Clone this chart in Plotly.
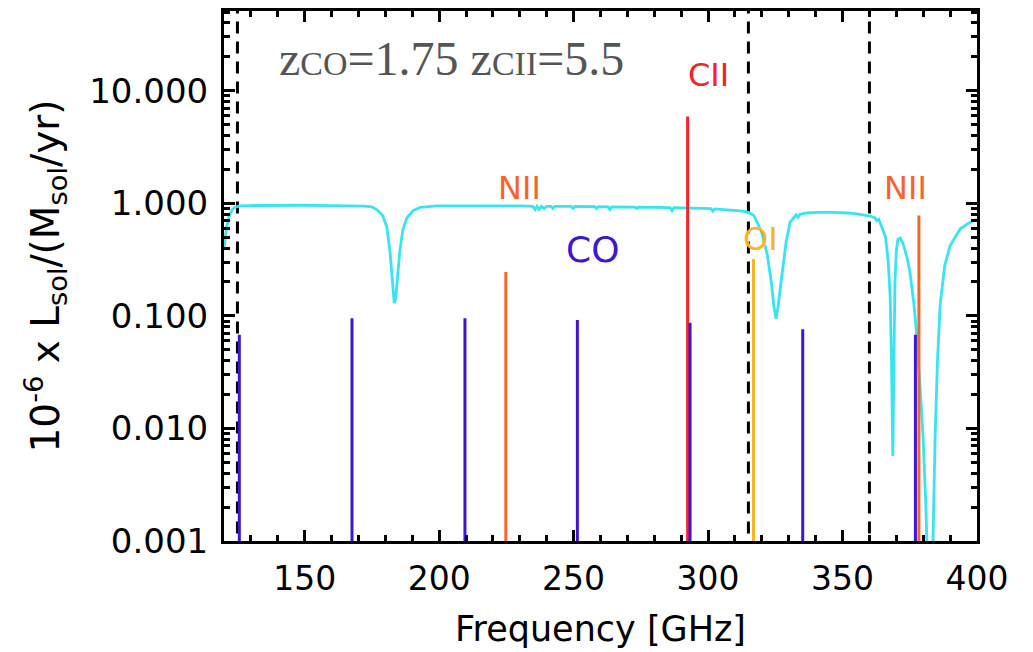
import plotly.graph_objects as go

# ---------------- data ----------------
# atmospheric transmission curve
atm_freq = [120, 121, 122, 123, 124, 126, 130, 140, 150, 160, 168, 172, 175, 177, 179,
            180.5, 181.7, 182.6, 183.3, 183.8, 184.5, 185.4, 186.5, 188, 190.3, 193, 199,
            210, 220, 230, 234.8, 235.7, 236.4, 237.1, 238.0, 239.1, 240, 241.6, 242.3, 243,
            249, 249.8, 250.5, 257.8, 258.5, 259.2, 262.8, 263.5, 264.2, 270, 272.8, 273.5,
            274.2, 280, 285.9, 286.6, 287.3, 290, 295, 301.1, 301.8, 302.5, 306, 310, 313,
            315, 317, 318.2, 320, 322, 323.5, 324.5, 325.3, 326, 327.5, 329, 330.5, 332.8,
            333.5, 334.2, 336.8, 341, 346.5, 352, 356, 360.2, 362.1, 362.8, 363.5, 365, 366,
            367, 367.7, 368.2, 368.7, 369.1, 369.5, 370.0, 370.6, 371.5, 372.5, 374, 375,
            376.5, 377.7, 379, 380, 381, 381.8, 383.3, 384.4, 385.3, 386.3, 388, 390, 393.7,
            397, 400]
atm_trans = [0.40, 0.62, 0.78, 0.87, 0.92, 0.95, 0.955, 0.96, 0.96, 0.955, 0.95, 0.945, 0.93,
             0.87, 0.78, 0.62, 0.38, 0.20, 0.13, 0.14, 0.22, 0.38, 0.58, 0.74, 0.86, 0.92, 0.95,
             0.955, 0.95, 0.95, 0.94, 0.88, 0.94, 0.88, 0.94, 0.90, 0.94, 0.94, 0.90, 0.94,
             0.94, 0.90, 0.94, 0.935, 0.90, 0.935, 0.93, 0.88, 0.93, 0.93, 0.925, 0.90,
             0.925, 0.92, 0.915, 0.86, 0.915, 0.91, 0.90, 0.895, 0.85, 0.89, 0.88, 0.87, 0.85,
             0.83, 0.78, 0.68, 0.55, 0.35, 0.20, 0.12, 0.094, 0.12, 0.245, 0.45, 0.68, 0.79,
             0.75, 0.80, 0.82, 0.83, 0.83, 0.82, 0.80, 0.77, 0.74, 0.70, 0.72, 0.58, 0.50,
             0.30, 0.15, 0.04, 0.0057, 0.04, 0.20, 0.38, 0.48, 0.49, 0.44, 0.33, 0.25,
             0.13, 0.063, 0.02, 0.008, 0.002, 0.0004, 0.0004, 0.008, 0.04, 0.125, 0.28, 0.42, 0.59,
             0.67, 0.72]

# observed-frame line frequencies [GHz] and luminosities
co_freq = [125.7, 167.6, 209.6, 251.4, 293.3, 335.2, 377.1]
co_lum = [0.068, 0.095, 0.095, 0.092, 0.087, 0.076, 0.068]
cii_freq = [292.4]
cii_lum = [5.9]
nii_freq = [224.8, 378.4]
nii_lum = [0.245, 0.78]
oi_freq = [316.9]
oi_lum = [0.32]

band_edges = [125, 315, 360]

x_tickvals = [150, 200, 250, 300, 350, 400]
y_tickvals = [0.001, 0.01, 0.1, 1, 10]
y_ticktext = ["0.001", "0.010", "0.100", "1.000", "10.000"]

# ---------------- colours ----------------
C_ATM = "rgb(55,228,240)"
C_CO = "rgb(62,22,208)"
C_CII = "rgb(240,36,42)"
C_NII = "rgb(245,100,40)"
C_OI = "rgb(247,181,38)"

BOTTOM = 1e-4
TOP = 100


def spikes(freqs, vals):
    xs, ys = [], []
    for f, v in zip(freqs, vals):
        xs += [f, f, None]
        ys += [BOTTOM, v, None]
    return xs, ys


fig = go.Figure()

# dashed band edges
bx, by = [], []
for f in band_edges:
    bx += [f, f, None]
    by += [BOTTOM, TOP, None]
fig.add_trace(go.Scatter(x=bx, y=by, mode="lines",
                         line=dict(color="black", width=3, dash="12px,8px"),
                         hoverinfo="skip", showlegend=False))

# atmospheric transmission
fig.add_trace(go.Scatter(x=atm_freq, y=atm_trans, mode="lines",
                         line=dict(color=C_ATM, width=2.8), showlegend=False))

for fr, lum, col in [(cii_freq, cii_lum, C_CII), (nii_freq, nii_lum, C_NII),
                     (oi_freq, oi_lum, C_OI), (co_freq, co_lum, C_CO)]:
    sx, sy = spikes(fr, lum)
    fig.add_trace(go.Scatter(x=sx, y=sy, mode="lines",
                             line=dict(color=col, width=3), showlegend=False))


# annotation y positions are given as log10 values (log axis)
def label(text, x, logy, color, size=32):
    fig.add_annotation(x=x, y=logy, xref="x", yref="y", text=text, showarrow=False,
                       xanchor="center", yanchor="middle",
                       font=dict(family="DejaVu Sans", size=size, color=color))


label("CII", 300, 1.14, C_CII)
label("NII", 230, 0.133, C_NII)
label("CO", 256.9, -0.407, C_CO, 36)
label("OI", 319.5, -0.319, C_OI)
label("NII", 373.3, 0.133, C_NII)

fig.add_annotation(x=204.5, y=1.29, xref="x", yref="y", showarrow=False,
                   xanchor="center", yanchor="middle",
                   text="z<span style='font-size:34px'>CO</span>=1.75 "
                        "z<span style='font-size:34px'>CII</span>=5.5",
                   font=dict(family="Liberation Serif", size=48, color="#555555"))

minor_y = [k * 10 ** d for d in range(-3, 2) for k in range(2, 10) if k * 10 ** d < 51]

fig.update_xaxes(range=[120, 400], tickmode="array", tickvals=x_tickvals,
                 ticks="inside", ticklen=11, tickwidth=2.5, tickcolor="black",
                 showline=True, linewidth=3, linecolor="black", mirror="ticks",
                 showgrid=False, zeroline=False,
                 minor=dict(ticks="inside", dtick=10, tick0=120, ticklen=6,
                            tickwidth=2.5, tickcolor="black", showgrid=False),
                 tickfont=dict(family="DejaVu Sans", size=33, color="black"),
                 ticklabelstandoff=6,
                 title=dict(text="Frequency [GHz]", standoff=20,
                            font=dict(family="DejaVu Sans", size=35, color="black")))

fig.update_yaxes(type="log", range=[-3, 1.708], tickmode="array",
                 tickvals=y_tickvals, ticktext=y_ticktext,
                 ticks="inside", ticklen=11, tickwidth=2.5, tickcolor="black",
                 showline=True, linewidth=3, linecolor="black", mirror="ticks",
                 showgrid=False, zeroline=False,
                 minor=dict(ticks="inside", tickmode="array", tickvals=minor_y,
                            ticklen=6, tickwidth=2.5, tickcolor="black", showgrid=False),
                 tickfont=dict(family="DejaVu Sans", size=34, color="black"),
                 ticklabelstandoff=6,
                 title=dict(text="10<sup>-6</sup> x L<sub>sol</sub>/(M<sub>sol</sub>/yr)",
                            standoff=18,
                            font=dict(family="DejaVu Sans", size=39, color="black")))

fig.update_layout(width=1033, height=652, autosize=False,
                  margin=dict(l=224, r=56, t=8, b=111),
                  paper_bgcolor="white", plot_bgcolor="white", showlegend=False)

fig.write_html("out.html")
